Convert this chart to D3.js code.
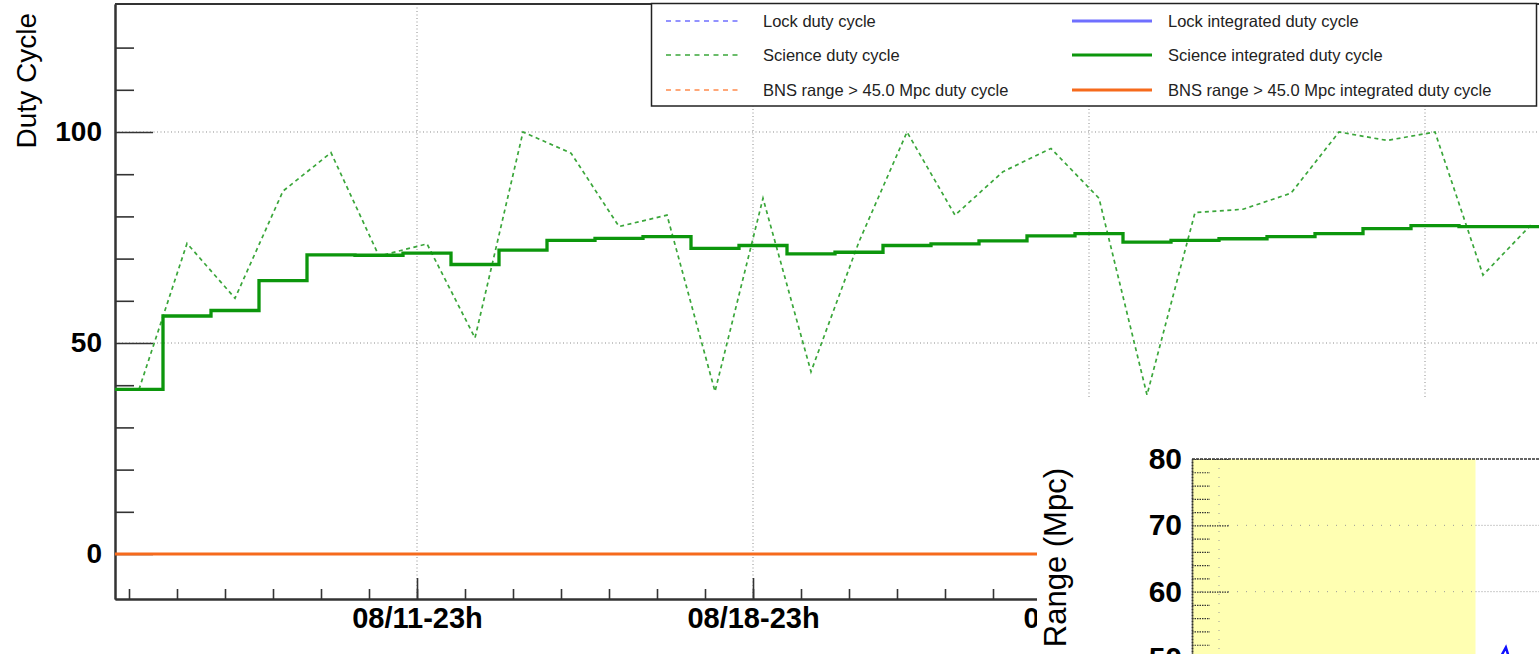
<!DOCTYPE html>
<html>
<head>
<meta charset="utf-8">
<script src="https://cdn.jsdelivr.net/npm/d3@7"></script>
<style>
  body { margin: 0; background: #fff; }
  svg { display: block; font-family: 'Liberation Sans', Arial, Helvetica, sans-serif; }
</style>
</head>
<body>
<svg id="chart" width="1539" height="654"></svg>
<script>
'use strict'

// daily bins, the first one starting 08/05 16h (UTC)
const binStart = new Date(Date.UTC(2019, 7, 5, 16))
const binCount = 30

const scienceDaily = [39, 73.6, 60.6, 86, 95.1, 70.6, 73.5, 51.2, 100, 95,
  77.6, 80.3, 38.5, 84.3, 43.2, 74, 100, 80.3, 90.6, 96.1,
  84.3, 37.7, 80.9, 81.7, 85.5, 100, 98, 100, 66.1, 78]
const scienceIntegrated = [39, 56.4, 57.7, 64.8, 70.9, 70.8, 71.3, 68.6, 72, 74.3,
  74.8, 75.2, 72.4, 73.1, 71.1, 71.5, 73.1, 73.5, 74.2, 75.4,
  75.9, 73.9, 74.3, 74.7, 75.2, 75.9, 77.1, 77.8, 77.6, 77.6]
const bnsDaily = [0, 0, 0, 0, 0, 0, 0, 0, 0, 0, 0, 0, 0, 0, 0,
  0, 0, 0, 0, 0, 0, 0, 0, 0, 0, 0, 0, 0, 0, 0]
const bnsIntegrated = [0, 0, 0, 0, 0, 0, 0, 0, 0, 0, 0, 0, 0, 0, 0,
  0, 0, 0, 0, 0, 0, 0, 0, 0, 0, 0, 0, 0, 0, 0]

const yMajorTicks = [0, 50, 100]
const yMinorTicks = [10, 20, 30, 40, 60, 70, 80, 90, 110, 120]

const legendLabels = [
  'Lock duty cycle', 'Science duty cycle', 'BNS range > 45.0 Mpc duty cycle',
  'Lock integrated duty cycle', 'Science integrated duty cycle', 'BNS range > 45.0 Mpc integrated duty cycle'
]

// the range panel that sits over the lower right corner
const rangeMajorTicks = [50, 60, 70, 80]
const rangeMinorTicks = [52, 54, 56, 58, 62, 64, 66, 68, 72, 74, 76, 78]
const rangeShadeHours = [0, 12.6]
const rangeGridHour = 1.2
const rangeHours = [13.6, 13.95, 14.15, 15.2, 15.5, 15.8]
const rangeValues = [49.4, 51.6, 49.4, 49.6, 50.6, 49.6]

const colors = {
  lock: '#6f6fff',
  science: '#3aa63a',
  scienceSolid: '#0c960c',
  bns: '#ff8a4c',
  bnsSolid: '#f66a1c',
  grid: '#8c8c8c',
  axis: '#333'
}

const svg = d3.select('#chart')
const frame = { left: 115, top: 4, right: 1555, bottom: 599 }

const x = d3.scaleUtc()
  .domain([binStart, d3.utcDay.offset(binStart, binCount)])
  .range([frame.left, frame.right])
const y = d3.scaleLinear()
  .domain([-10.66, 130.33])
  .range([frame.bottom, frame.top])

const binDates = d3.range(binCount + 1).map(i => d3.utcDay.offset(binStart, i))
const binMid = i => d3.utcHour.offset(binDates[i], 12)

const minorDates = d3.utcDay.range(d3.utcDay.floor(binStart), x.domain()[1])
  .map(d => d3.utcHour.offset(d, 23))
  .filter(d => d >= binStart && d < x.domain()[1])
const majorDates = minorDates.filter((d, i) => i >= 6 && (i - 6) % 7 === 0)

svg.append('defs').append('clipPath').attr('id', 'plot-clip')
  .append('rect')
  .attr('x', frame.left).attr('y', frame.top)
  .attr('width', frame.right - frame.left).attr('height', frame.bottom - frame.top)

// grid
const grid = svg.append('g').attr('class', 'grid')
  .attr('stroke', colors.grid).attr('stroke-width', 1).attr('stroke-dasharray', '1,2.5')
grid.selectAll('line.v').data(majorDates).enter().append('line')
  .attr('class', 'v')
  .attr('x1', d => x(d)).attr('x2', d => x(d))
  .attr('y1', frame.top).attr('y2', frame.bottom)
grid.selectAll('line.h').data(yMajorTicks).enter().append('line')
  .attr('class', 'h')
  .attr('x1', frame.left).attr('x2', frame.right)
  .attr('y1', d => y(d)).attr('y2', d => y(d))

// axes (drawn before the series so the lines sit on top of the ticks)
const styleAxis = (g, fontSize) => {
  g.select('.domain').attr('stroke', colors.axis).attr('stroke-width', 2)
  g.selectAll('.tick line').attr('stroke', colors.axis).attr('stroke-width', 1.6)
  g.selectAll('.tick text')
    .attr('fill', '#000')
    .style('font-size', fontSize + 'px')
    .style('font-weight', 'bold')
}

svg.append('g')
  .attr('transform', `translate(0,${frame.bottom})`)
  .call(d3.axisBottom(x).tickValues(minorDates).tickSizeInner(-10).tickSizeOuter(0).tickFormat(''))
  .call(g => styleAxis(g, 29))
svg.append('g')
  .attr('transform', `translate(0,${frame.bottom})`)
  .call(d3.axisBottom(x).tickValues(majorDates).tickSizeInner(-21).tickSizeOuter(0)
    .tickPadding(8).tickFormat(d3.utcFormat('%m/%d-%Hh')))
  .call(g => styleAxis(g, 29))

svg.append('g')
  .attr('transform', `translate(${frame.left},0)`)
  .call(d3.axisLeft(y).tickValues(yMinorTicks).tickSizeInner(-19).tickSizeOuter(0).tickFormat(''))
  .call(g => styleAxis(g, 28))
svg.append('g')
  .attr('transform', `translate(${frame.left},0)`)
  .call(d3.axisLeft(y).tickValues(yMajorTicks).tickSizeInner(-38).tickSizeOuter(0).tickPadding(13))
  .call(g => styleAxis(g, 28))

svg.append('line')
  .attr('x1', frame.left).attr('x2', frame.right)
  .attr('y1', frame.top).attr('y2', frame.top)
  .attr('stroke', colors.axis).attr('stroke-width', 2)

svg.append('text')
  .attr('transform', 'translate(36,13) rotate(-90)')
  .attr('text-anchor', 'end')
  .style('font-size', '28px')
  .text('Duty Cycle')

// series
const dailyLine = d3.line()
  .x((d, i) => x(binMid(i)))
  .y(d => y(d))
const stepLine = d3.line()
  .curve(d3.curveStepAfter)
  .x(d => x(d[0]))
  .y(d => y(d[1]))
const stepPoints = vals => vals.map((v, i) => [binDates[i], v])
  .concat([[binDates[vals.length], vals[vals.length - 1]]])

const plot = svg.append('g').attr('clip-path', 'url(#plot-clip)').attr('fill', 'none')
plot.append('path').datum(bnsDaily)
  .attr('d', dailyLine)
  .attr('stroke', colors.bns).attr('stroke-width', 1.5).attr('stroke-dasharray', '4,3.5')
plot.append('path').datum(stepPoints(bnsIntegrated))
  .attr('d', stepLine)
  .attr('stroke', colors.bnsSolid).attr('stroke-width', 3)
plot.append('path').datum(scienceDaily)
  .attr('d', dailyLine)
  .attr('stroke', colors.science).attr('stroke-width', 1.7).attr('stroke-dasharray', '4,3.5')
plot.append('path').datum(stepPoints(scienceIntegrated))
  .attr('d', stepLine)
  .attr('stroke', colors.scienceSolid).attr('stroke-width', 3.3)

// legend
const legendItems = legendLabels.map((label, i) => ({
  label,
  col: Math.floor(i / 3),
  row: i % 3,
  dashed: i < 3,
  color: [colors.lock, colors.science, colors.bns, colors.lock, colors.scienceSolid, colors.bnsSolid][i]
}))
const legendCols = [{ x1: 666, x2: 742, tx: 763 }, { x1: 1072, x2: 1152, tx: 1168 }]
const legendRows = [21, 55, 90]

const legend = svg.append('g').attr('class', 'legend')
legend.append('rect')
  .attr('x', 651.5).attr('y', 3.5).attr('width', 885).attr('height', 102.5)
  .attr('fill', '#fff').attr('stroke', '#222').attr('stroke-width', 1.5)
const entries = legend.selectAll('g.entry').data(legendItems).enter().append('g').attr('class', 'entry')
entries.append('line')
  .attr('x1', d => legendCols[d.col].x1).attr('x2', d => legendCols[d.col].x2)
  .attr('y1', d => legendRows[d.row]).attr('y2', d => legendRows[d.row])
  .attr('stroke', d => d.color)
  .attr('stroke-width', d => d.dashed ? 1.6 : 3)
  .attr('stroke-dasharray', d => d.dashed ? '5,4.5' : null)
entries.append('text')
  .attr('x', d => legendCols[d.col].tx)
  .attr('y', d => legendRows[d.row])
  .attr('dy', '0.35em')
  .attr('fill', '#222')
  .style('font-size', '16.5px')
  .text(d => d.label)

// range panel overlapping the corner
const inset = svg.append('g').attr('class', 'inset')
inset.append('rect')
  .attr('x', 1037).attr('y', 397).attr('width', 502).attr('height', 257)
  .attr('fill', '#fff')

const rx = d3.scaleLinear().domain([0, 24]).range([1192, 1732])
const ry = d3.scaleLinear().domain([50, 80]).range([658, 459])

inset.append('rect')
  .attr('x', rx(rangeShadeHours[0])).attr('y', ry(80))
  .attr('width', rx(rangeShadeHours[1]) - rx(rangeShadeHours[0]))
  .attr('height', 654 - ry(80))
  .attr('fill', '#ffffb2')

const insetGrid = inset.append('g').attr('stroke', '#999').attr('stroke-width', 1)
insetGrid.selectAll('line.in').data([60, 70]).enter().append('line')
  .attr('x1', rx(rangeShadeHours[0])).attr('x2', rx(rangeShadeHours[1]))
  .attr('y1', d => ry(d)).attr('y2', d => ry(d))
  .attr('stroke-dasharray', '1,8')
insetGrid.selectAll('line.out').data([60, 70]).enter().append('line')
  .attr('x1', rx(rangeShadeHours[1])).attr('x2', 1539)
  .attr('y1', d => ry(d)).attr('y2', d => ry(d))
  .attr('stroke-dasharray', '1,2')
insetGrid.append('line')
  .attr('x1', rx(rangeGridHour)).attr('x2', rx(rangeGridHour))
  .attr('y1', ry(80)).attr('y2', 654)
  .attr('stroke-dasharray', '1,8')

const styleInsetAxis = g => {
  g.select('.domain').attr('stroke', '#333').attr('stroke-width', 1.5).attr('stroke-dasharray', '2,1')
  g.selectAll('.tick line').attr('stroke', '#333').attr('stroke-width', 1.2).attr('stroke-dasharray', '1.5,1')
  g.selectAll('.tick text')
    .attr('fill', '#000')
    .style('font-size', '30px')
    .style('font-weight', 'bold')
}
inset.append('g')
  .attr('transform', `translate(${rx(0)},0)`)
  .call(d3.axisLeft(ry).tickValues(rangeMinorTicks).tickSizeInner(-18).tickSizeOuter(0).tickFormat(''))
  .call(styleInsetAxis)
inset.append('g')
  .attr('transform', `translate(${rx(0)},0)`)
  .call(d3.axisLeft(ry).tickValues(rangeMajorTicks).tickSizeInner(-37).tickSizeOuter(0).tickPadding(10))
  .call(styleInsetAxis)

inset.append('line')
  .attr('x1', rx(0)).attr('x2', 1539)
  .attr('y1', ry(80)).attr('y2', ry(80))
  .attr('stroke', '#333').attr('stroke-width', 1.5).attr('stroke-dasharray', '3,1')

inset.append('path')
  .datum(d3.zip(rangeHours, rangeValues))
  .attr('d', d3.line().x(d => rx(d[0])).y(d => ry(d[1])))
  .attr('fill', 'none').attr('stroke', '#1010ff').attr('stroke-width', 2.5)

inset.append('text')
  .attr('transform', 'translate(1066,468) rotate(-90)')
  .attr('text-anchor', 'end')
  .style('font-size', '31px')
  .text('Range (Mpc)')
</script>
</body>
</html>
